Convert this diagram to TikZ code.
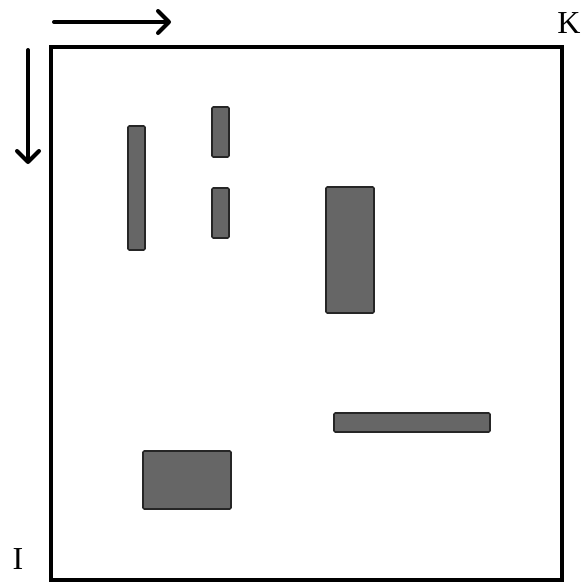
\documentclass[tikz,border=0pt]{standalone}
\usepackage{fontspec}
\setmainfont{Liberation Serif}
\usetikzlibrary{arrows.meta}
\begin{document}
\begin{tikzpicture}[x=1pt,y=-1pt,
  bar/.style={draw=black!85,line width=1.6pt,fill=black!60,rounded corners=1.2pt},
  dirarrow/.style={line width=4pt,line cap=round,-{Straight Barb[length=11pt,width=22pt,round,line width=4pt]}},
  lbl/.style={font=\fontsize{32}{32}\selectfont,inner sep=0pt}]
\useasboundingbox[fill=white] (0,0) rectangle (582,584);
\draw[line width=4pt] (51,47) rectangle (562,580);
\coordinate (hs) at (54,22);
\coordinate (he) at (171,22);
\coordinate (vs) at (28,50);
\coordinate (ve) at (28,164);
\draw[dirarrow] (hs) -- (he);
\draw[dirarrow] (vs) -- (ve);
\node[lbl] (K) at (569,23) {K};
\node[lbl] (I) at (18,559) {I};
\draw[bar] (128,126) rectangle (145,250);
\draw[bar] (212,107) rectangle (229,157);
\draw[bar] (212,188) rectangle (229,238);
\draw[bar] (326,187) rectangle (374,313);
\draw[bar] (334,413) rectangle (490,432);
\draw[bar] (143,451) rectangle (231,509);
\end{tikzpicture}
\end{document}
